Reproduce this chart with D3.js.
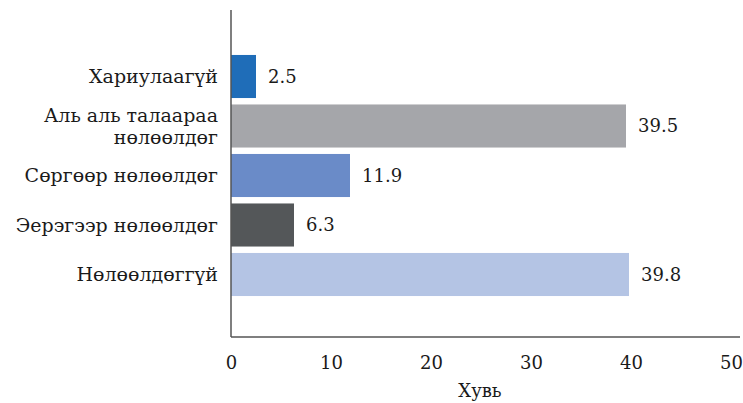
<!DOCTYPE html>
<html><head><meta charset="utf-8">
<script src="https://cdn.jsdelivr.net/npm/d3@7"></script>
<style>body{margin:0;background:#fff}svg{display:block}text{font-family:"DejaVu Serif",serif;fill:#1a1a1a}</style>
</head><body><svg id="c" width="743" height="403"></svg>
<script>
const categories = ["Хариулаагүй", "Аль аль талаараа|нөлөөлдөг", "Сөргөөр нөлөөлдөг", "Эерэгээр нөлөөлдөг", "Нөлөөлдөггүй"];
const values = [2.5, 39.5, 11.9, 6.3, 39.8];
const colors = ["#1f6db8", "#a5a6aa", "#6a8bc8", "#545759", "#b4c4e4"];
const xTicks = [0, 10, 20, 30, 40, 50];
const xTitle = "Хувь";

const svg = d3.select("#c");
const x = d3.scaleLinear().domain([0, 50]).range([231, 731]);
const y = d3.scaleBand().domain(categories).range([52, 299]).paddingInner(0.13).paddingOuter(0.06);

svg.selectAll("rect.bar").data(values).join("rect")
  .attr("x", x(0)).attr("y", (d, i) => y(categories[i]))
  .attr("width", d => x(d) - x(0)).attr("height", y.bandwidth())
  .attr("fill", (d, i) => colors[i]);

svg.selectAll("text.val").data(values).join("text")
  .attr("x", d => x(d) + 12).attr("y", (d, i) => y(categories[i]) + y.bandwidth() / 2)
  .attr("dy", "0.35em").style("font-size", "18px").text(d => d.toFixed(1));

categories.forEach((c, i) => {
  const lines = c.split("|");
  const cy = y(c) + y.bandwidth() / 2;
  const t = svg.append("text").attr("x", 218).attr("text-anchor", "end").style("font-size", "19px");
  lines.forEach((l, j) => {
    t.append("tspan").attr("x", 218).attr("y", cy + (j - (lines.length - 1) / 2) * 22).attr("dy", "0.35em").text(l);
  });
});

const xAxis = d3.axisBottom(x).tickValues(xTicks).tickSize(0).tickPadding(19).tickFormat(d3.format("d"));
const gx = svg.append("g").attr("transform", "translate(0,337)").call(xAxis);
gx.attr("font-family", null).attr("font-size", null);
gx.select(".domain").attr("d", "M231,0H740").attr("stroke", "#555").attr("stroke-width", 1.5);
gx.selectAll("text").style("font-size", "18px").style("fill", "#1a1a1a");
svg.append("line").attr("x1", 231).attr("x2", 231).attr("y1", 10).attr("y2", 337).attr("stroke", "#555").attr("stroke-width", 1.5);

svg.append("text").attr("x", 480).attr("y", 397).attr("text-anchor", "middle").style("font-size", "18px").text(xTitle);
</script></body></html>
